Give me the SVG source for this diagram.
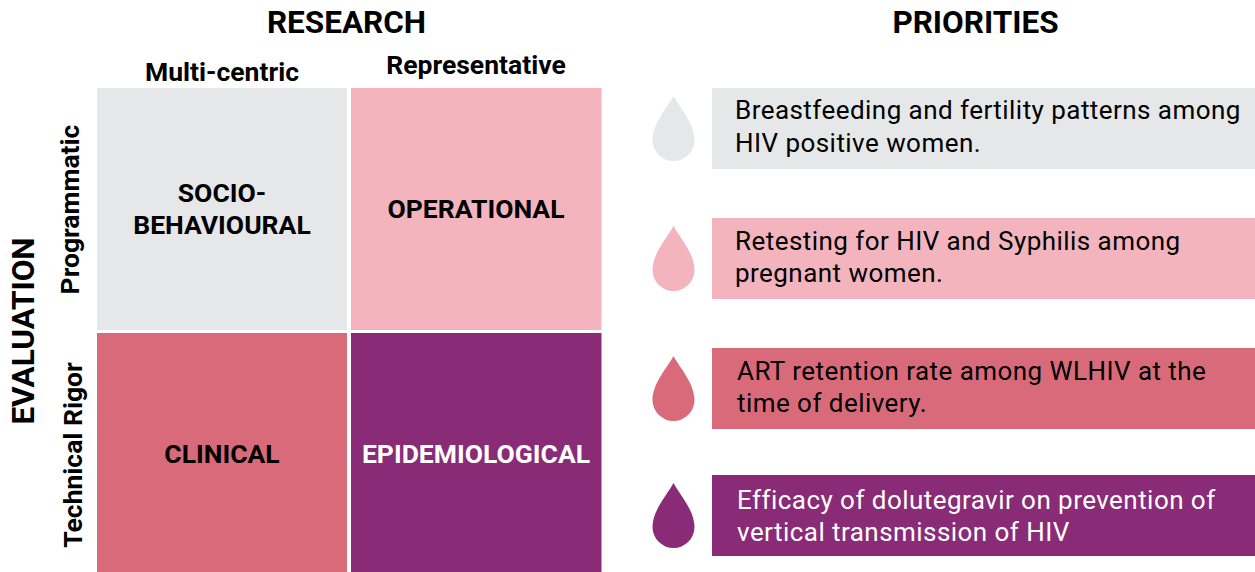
<svg xmlns="http://www.w3.org/2000/svg" width="1255" height="572" viewBox="0 0 1255 572">
<style>
text{font-family:Roboto,"Liberation Sans",sans-serif;fill:#000}
.h{font-size:31.5px;font-weight:700;text-anchor:middle}
.s{font-size:26.5px;font-weight:700;text-anchor:middle}
.q{font-size:26.5px;font-weight:700;text-anchor:middle}
.p{font-size:26px;letter-spacing:.45px}
.g{fill:#e6e7e8}.k{fill:#f3b4bd}.r{fill:#d96a79}.m{fill:#8a2b77}
</style>
<defs><path id="drop" d="M0 0C5 10 21 27 21 44A21 21 0 0 1 -21 44C-21 27 -5 10 0 0Z"/></defs>
<g id="titles">
<text class="h" x="346.500" y="32.500">RESEARCH</text>
<text class="h" x="975.500" y="32.500">PRIORITIES</text>
<text class="s" x="222" y="81">Multi-centric</text>
<text class="s" x="476" y="74">Representative</text>
<text class="h" transform="translate(34 331) rotate(-90)">EVALUATION</text>
<text class="s" transform="translate(78.500 209.500) rotate(-90)">Programmatic</text>
<text class="s" transform="translate(81.500 455) rotate(-90)">Technical Rigor</text>
</g>
<g id="q1"><rect class="g" x="97" y="88" width="250" height="242"/><text class="q" x="222" y="202">SOCIO-</text><text class="q" x="222" y="234">BEHAVIOURAL</text></g>
<g id="q2"><rect class="k" x="351" y="88" width="250.500" height="242"/><text class="q" x="476" y="218">OPERATIONAL</text></g>
<g id="q3"><rect class="r" x="97" y="333" width="250" height="239"/><text class="q" x="222" y="463">CLINICAL</text></g>
<g id="q4"><rect class="m" x="351" y="333" width="250.500" height="239"/><text class="q" style="fill:#fff" x="476" y="463">EPIDEMIOLOGICAL</text></g>
<g id="p1"><use href="#drop" class="g" x="673.500" y="96"/><rect class="g" x="712" y="88" width="543" height="81"/><text class="p" x="735" y="119">Breastfeeding and fertility patterns among</text><text class="p" x="735" y="152">HIV positive women.</text></g>
<g id="p2"><use href="#drop" class="k" x="673.500" y="226"/><rect class="k" x="712" y="218" width="543" height="81"/><text class="p" x="735" y="250">Retesting for HIV and Syphilis among</text><text class="p" x="735" y="282">pregnant women.</text></g>
<g id="p3"><use href="#drop" class="r" x="673.500" y="356"/><rect class="r" x="712" y="348" width="543" height="81"/><text class="p" x="737" y="380">ART retention rate among WLHIV at the</text><text class="p" x="737" y="412">time of delivery.</text></g>
<g id="p4"><use href="#drop" class="m" x="673.500" y="483"/><rect class="m" x="712" y="475" width="543" height="81"/><text class="p" style="fill:#fff" x="737" y="509">Efficacy of dolutegravir on prevention of</text><text class="p" style="fill:#fff" x="737" y="541">vertical transmission of HIV</text></g>
</svg>
